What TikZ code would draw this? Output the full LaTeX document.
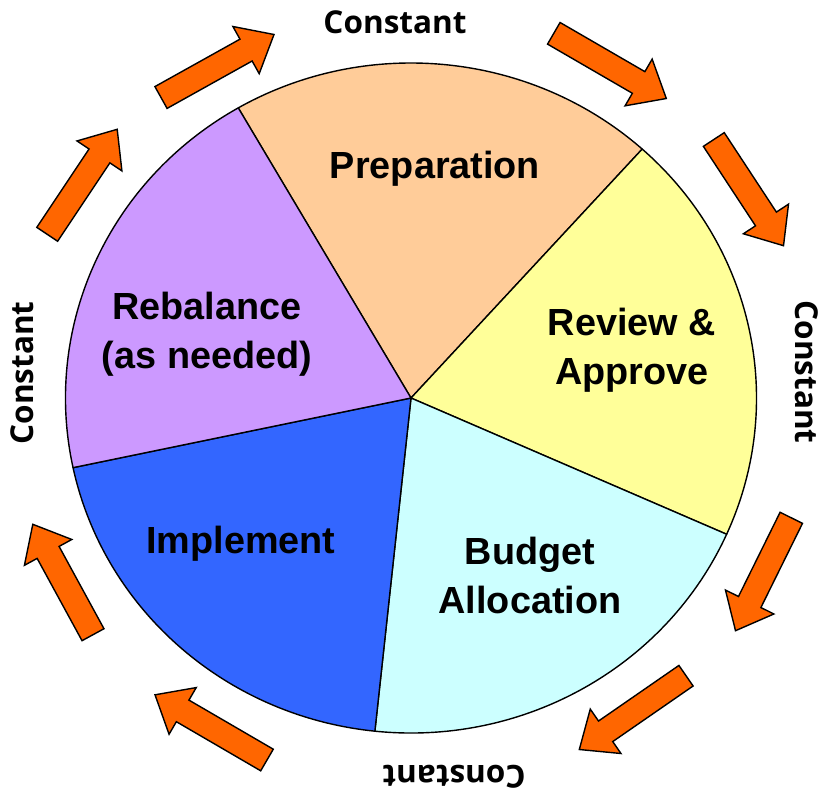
\documentclass[tikz,border=0pt]{standalone}
\usepackage{fontspec}
\setmainfont{Liberation Sans}
\newfontfamily\constfont{Open Sans}
\usetikzlibrary{calc}
\definecolor{peach}{HTML}{FFCC99}
\definecolor{paleyellow}{HTML}{FFFF99}
\definecolor{palecyan}{HTML}{CCFFFF}
\definecolor{royal}{HTML}{3366FF}
\definecolor{lilac}{HTML}{CC99FF}
\definecolor{arroworange}{HTML}{FF6600}
\tikzset{
  wedge/.style={draw=black, line width=1.4pt, line join=round},
  blockarrow/.style={fill=arroworange, draw=black, line width=1.4pt, line join=miter},
  wedgelabel/.style={font=\fontsize{37.8}{48.5}\selectfont\bfseries, align=center, anchor=base, inner sep=0pt},
  constlabel/.style={font=\constfont\fontsize{31.5}{31.5}\selectfont\bfseries, inner sep=0pt}
}
\newcommand{\blockarr}[2]{%
  \coordinate (bt) at #1;
  \coordinate (bp) at #2;
  \coordinate (bj) at ($(bp)!32pt!(bt)$);
  \filldraw[blockarrow] ($(bt)!12.5pt!90:(bp)$) -- ($(bj)!12.5pt!90:(bp)$) -- ($(bj)!27pt!90:(bp)$) -- (bp)
    -- ($(bj)!27pt!-90:(bp)$) -- ($(bj)!12.5pt!-90:(bp)$) -- ($(bt)!12.5pt!-90:(bp)$) -- cycle;
}
\begin{document}
\begin{tikzpicture}[x=1pt,y=1pt]
\useasboundingbox (0,0) rectangle (827,-793);
\coordinate (C) at (411,-398);
% wedges
\filldraw[wedge, fill=peach] (C) -- ++(120:345.5pt and 335pt) arc[start angle=120, end angle=48, x radius=345.5pt, y radius=335pt] -- cycle;
\filldraw[wedge, fill=paleyellow] (C) -- ++(48:345.5pt and 335pt) arc[start angle=48, end angle=-24, x radius=345.5pt, y radius=335pt] -- cycle;
\filldraw[wedge, fill=palecyan] (C) -- ++(-24:345.5pt and 335pt) arc[start angle=-24, end angle=-96, x radius=345.5pt, y radius=335pt] -- cycle;
\filldraw[wedge, fill=royal] (C) -- ++(-96:345.5pt and 335pt) arc[start angle=-96, end angle=-168, x radius=345.5pt, y radius=335pt] -- cycle;
\filldraw[wedge, fill=lilac] (C) -- ++(192:345.5pt and 335pt) arc[start angle=192, end angle=120, x radius=345.5pt, y radius=335pt] -- cycle;
% wedge labels (anchor=base is the last line's baseline)
\node[wedgelabel] (prep) at (435,-178) {Preparation};
\node[wedgelabel] (review) at (632,-384) {Review \&\\Approve};
\node[wedgelabel] (budget) at (530,-613) {Budget\\Allocation};
\node[wedgelabel] (impl) at (241,-553) {Implement};
\node[wedgelabel] (rebal) at (207,-368) {Rebalance\\(as needed)};
% constant labels
\node[constlabel] (ctop) at (395,-22) {Constant};
\node[constlabel, rotate=-90] (cright) at (807,-372) {Constant};
\node[constlabel, rotate=180] (cbottom) at (454,-777) {Constant};
\node[constlabel, rotate=90] (cleft) at (22,-373) {Constant};
% arrows
\blockarr{(161,-97.5)}{(274,-34.5)}
\blockarr{(553.8,-33.3)}{(666.3,-98.5)}
\blockarr{(713.8,-139.5)}{(783.5,-245.7)}
\blockarr{(791.3,-517.8)}{(735.5,-630.7)}
\blockarr{(686,-675.7)}{(579.3,-749.5)}
\blockarr{(267,-760)}{(155,-694.8)}
\blockarr{(93,-634.7)}{(32.8,-524.3)}
\blockarr{(47.2,-234.3)}{(117.2,-129.3)}
\end{tikzpicture}
\end{document}
